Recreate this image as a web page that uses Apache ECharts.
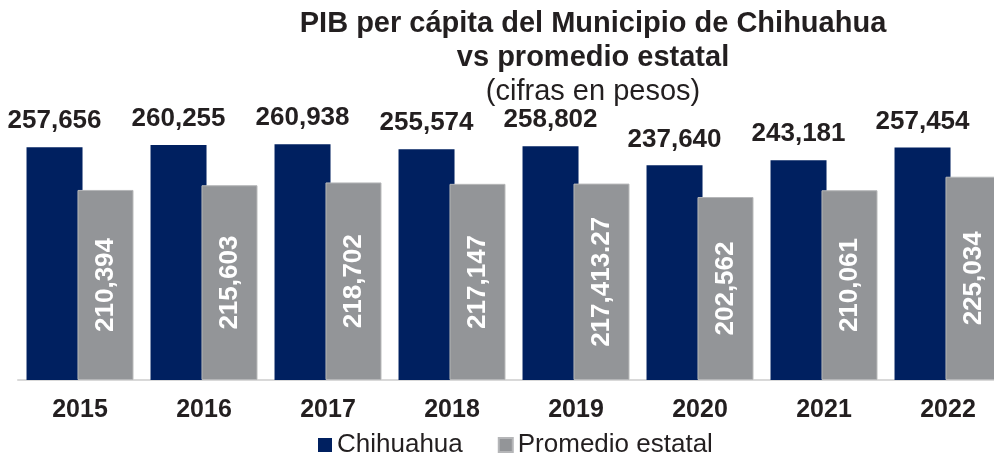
<!DOCTYPE html>
<html>
<head>
<meta charset="utf-8">
<script src="https://cdn.jsdelivr.net/npm/echarts@6/dist/echarts.min.js"></script>
<style>
  html, body { margin: 0; padding: 0; background: #fff; }
  #chart { width: 994px; height: 456px; }
</style>
</head>
<body>
<div id="chart"></div>
<script>
const years = ['2015', '2016', '2017', '2018', '2019', '2020', '2021', '2022']
const chihuahua = [257656, 260255, 260938, 255574, 258802, 237640, 243181, 257454]
const promedioEstatal = [210394, 215603, 218702, 217147, 217413.27, 202562, 210061, 225034]

const navy = '#002060'
const gray = '#939598'
const ink = '#231F20'
const font = 'Liberation Sans, Arial, sans-serif'

function fmt(v) {
  return v.toLocaleString('en-US', { maximumFractionDigits: 2 })
}

const chart = echarts.init(document.getElementById('chart'))

chart.setOption({
  animation: false,
  textStyle: { fontFamily: font },
  title: {
    text: '{b|PIB per cápita del Municipio de Chihuahua}\n{b|vs promedio estatal}\n{n|(cifras en pesos)}',
    left: 588,
    textAlign: 'center',
    top: 2,
    textStyle: {
      rich: {
        b: { fontFamily: font, fontSize: 29, fontWeight: 'bold', color: ink, lineHeight: 34 },
        n: { fontFamily: font, fontSize: 29, fontWeight: 'normal', color: ink, lineHeight: 34 }
      }
    }
  },
  legend: {
    top: 427,
    left: 313,
    itemWidth: 14,
    itemHeight: 14,
    itemGap: 35,
    icon: 'rect',
    textStyle: { fontFamily: font, fontSize: 26, color: ink, padding: [0, 0, 0, 0] },
    data: ['Chihuahua', 'Promedio estatal']
  },
  grid: {
    top: 109,
    height: 271,
    left: 18,
    width: 992,
    outerBoundsMode: 'none',
    containLabel: false
  },
  xAxis: {
    type: 'category',
    data: years,
    axisLine: { lineStyle: { color: '#D9D9D9', width: 2 } },
    axisTick: { show: false },
    axisLabel: {
      fontFamily: font,
      fontSize: 25,
      fontWeight: 'bold',
      color: ink,
      margin: 18
    }
  },
  yAxis: {
    type: 'value',
    min: 0,
    max: 300000,
    show: false,
    splitLine: { show: false }
  },
  series: [
    {
      name: 'Chihuahua',
      type: 'bar',
      data: chihuahua,
      barWidth: 56,
      barGap: '-9%',
      itemStyle: { color: navy },
      label: {
        show: true,
        position: 'top',
        distance: 13,
        fontFamily: font,
        fontSize: 26,
        fontWeight: 'bold',
        color: ink,
        formatter: p => fmt(p.value)
      }
    },
    {
      name: 'Promedio estatal',
      type: 'bar',
      data: promedioEstatal,
      barWidth: 56,
      itemStyle: { color: gray, borderColor: '#B5B6B8', borderWidth: 1 },
      label: {
        show: true,
        position: 'inside',
        rotate: 90,
        fontFamily: font,
        fontSize: 26,
        fontWeight: 'bold',
        color: '#ffffff',
        formatter: p => fmt(p.value)
      }
    }
  ]
})
</script>
</body>
</html>
